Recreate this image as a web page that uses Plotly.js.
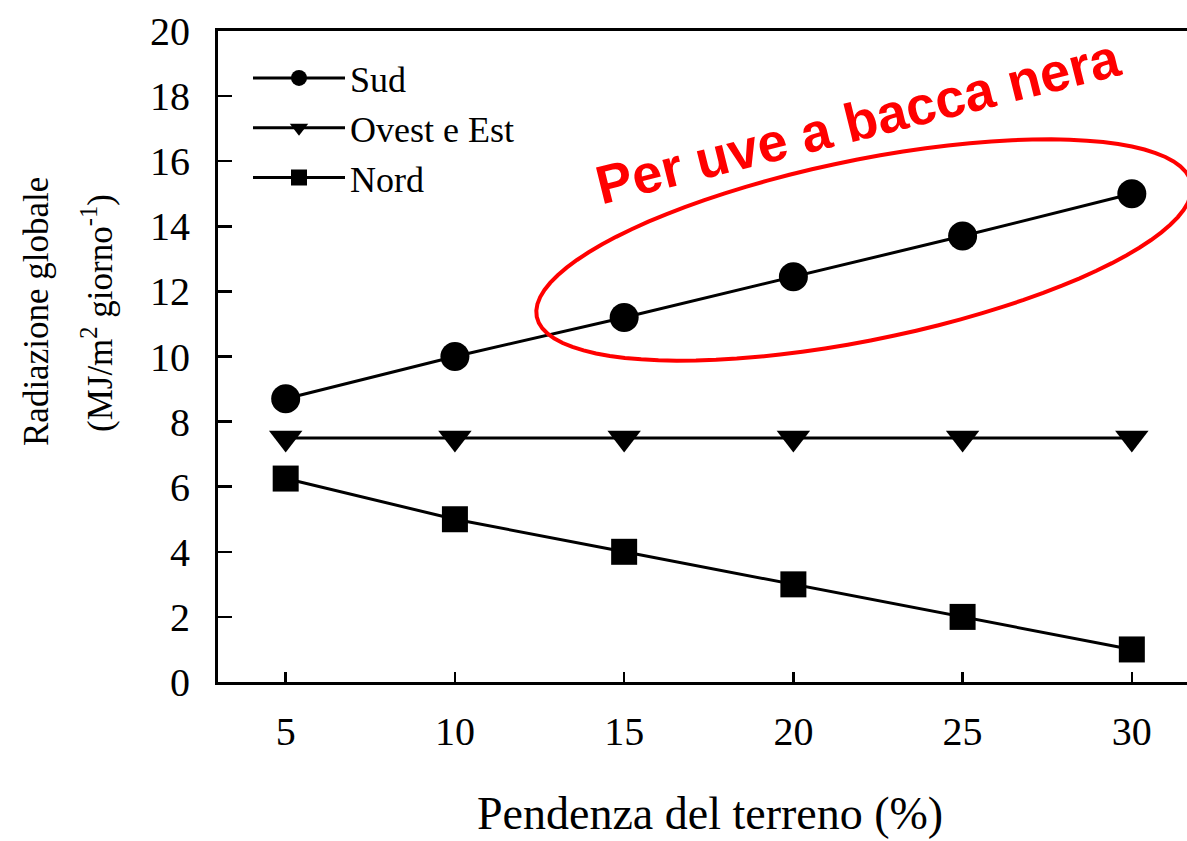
<!DOCTYPE html>
<html>
<head>
<meta charset="utf-8">
<script src="https://cdn.plot.ly/plotly-3.0.1.min.js"></script>
<style>html,body{margin:0;padding:0;background:#fff;}</style>
</head>
<body>
<div id="chart" style="width:1187px;height:841px;"></div>
<script>
// ---- data ----
const pendenza = [5, 10, 15, 20, 25, 30];
const sud = [8.7, 10.0, 11.2, 12.45, 13.7, 15.0];
const ovestEst = [7.5, 7.5, 7.5, 7.5, 7.5, 7.5];
const nord = [6.25, 5.0, 4.0, 3.0, 2.0, 1.0];
const seriesNames = ["Sud", "Ovest e Est", "Nord"];
const xTickVals = [5, 10, 15, 20, 25, 30];
const yTickVals = [0, 2, 4, 6, 8, 10, 12, 14, 16, 18, 20];

// ---- layout geometry (pixels) ----
const L = 218, T = 31, R = 0, B = 159, WID = 1187, HEI = 841;
const PW = WID - L - R, PH = HEI - T - B;
function px(x) { return (x - L) / PW; }
function py(y) { return (T + PH - y) / PH; }

const serif = "Liberation Serif";

function tr(y, name, symbol, size) {
  return {
    x: pendenza, y: y, name: name, type: "scatter", mode: "lines+markers",
    line: {color: "#000", width: 3},
    marker: {symbol: symbol, size: size, color: "#000"},
    hoverinfo: "skip"
  };
}
const data = [
  tr(sud, seriesNames[0], "circle", 29),
  tr(ovestEst, seriesNames[1], "triangle-down", 29),
  tr(nord, seriesNames[2], "square", 26)
];

// rotated ellipse (decoration) built as a path in paper coordinates
const ecx = 864, ecy = 250, ea = 334, eb = 90, eth = 11.55 * Math.PI / 180;
let path = "";
for (let i = 0; i <= 90; i++) {
  const t = i / 90 * 2 * Math.PI;
  const ex = ea * Math.cos(t), ey = eb * Math.sin(t);
  const X = ecx + ex * Math.cos(eth) + ey * Math.sin(eth);
  const Y = ecy - ex * Math.sin(eth) + ey * Math.cos(eth);
  path += (i === 0 ? "M" : "L") + px(X).toFixed(5) + "," + py(Y).toFixed(5);
}
path += "Z";

const layout = {
  width: WID, height: HEI,
  margin: {l: L, r: R, t: T, b: B, pad: 0},
  paper_bgcolor: "#fff", plot_bgcolor: "#fff",
  showlegend: true,
  font: {family: serif, color: "#000"},
  xaxis: {
    range: [3, 31.63], tickvals: xTickVals, ticks: "inside", ticklen: 10, tickwidth: 2.5,
    tickcolor: "#000", showline: true, linecolor: "#000", linewidth: 3, mirror: true,
    showgrid: false, zeroline: false, tickfont: {family: serif, size: 40, color: "#000"},
    ticklabelstandoff: 12
  },
  yaxis: {
    range: [0, 20], tickvals: yTickVals, ticks: "inside", ticklen: 14, tickwidth: 2.5,
    tickcolor: "#000", showline: true, linecolor: "#000", linewidth: 3, mirror: false,
    showgrid: false, zeroline: false, tickfont: {family: serif, size: 40, color: "#000"},
    ticklabelstandoff: 17
  },
  legend: {
    x: px(248), y: py(48), xanchor: "left", yanchor: "top",
    bgcolor: "rgba(0,0,0,0)", borderwidth: 0,
    font: {family: serif, size: 36, color: "#000"},
    itemwidth: 92, tracegroupgap: 0
  },
  shapes: [{
    type: "path", xref: "paper", yref: "paper", path: path,
    line: {color: "#ff0000", width: 4}, fillcolor: "rgba(0,0,0,0)"
  }],
  annotations: [
    {xref: "paper", yref: "paper", x: px(36), y: py(312), text: "Radiazione globale",
     textangle: -90, showarrow: false, font: {family: serif, size: 35, color: "#000"},
     xanchor: "center", yanchor: "middle"},
    {xref: "paper", yref: "paper", x: px(97), y: py(313), text: "(MJ/m<sup>2</sup> giorno<sup>-1</sup>)",
     textangle: -90, showarrow: false, font: {family: serif, size: 35, color: "#000"},
     xanchor: "center", yanchor: "middle"},
    {xref: "paper", yref: "paper", x: px(710), y: py(813), text: "Pendenza del terreno (%)",
     showarrow: false, font: {family: serif, size: 46, color: "#000"},
     xanchor: "center", yanchor: "middle"},
    {xref: "paper", yref: "paper", x: px(858), y: py(121), text: "<b>Per uve a bacca nera</b>",
     textangle: -14, showarrow: false, font: {family: "Liberation Sans", size: 54, color: "#ff0000"},
     xanchor: "center", yanchor: "middle"}
  ]
};

Plotly.newPlot("chart", data, layout, {displayModeBar: false, staticPlot: true});
</script>
</body>
</html>
